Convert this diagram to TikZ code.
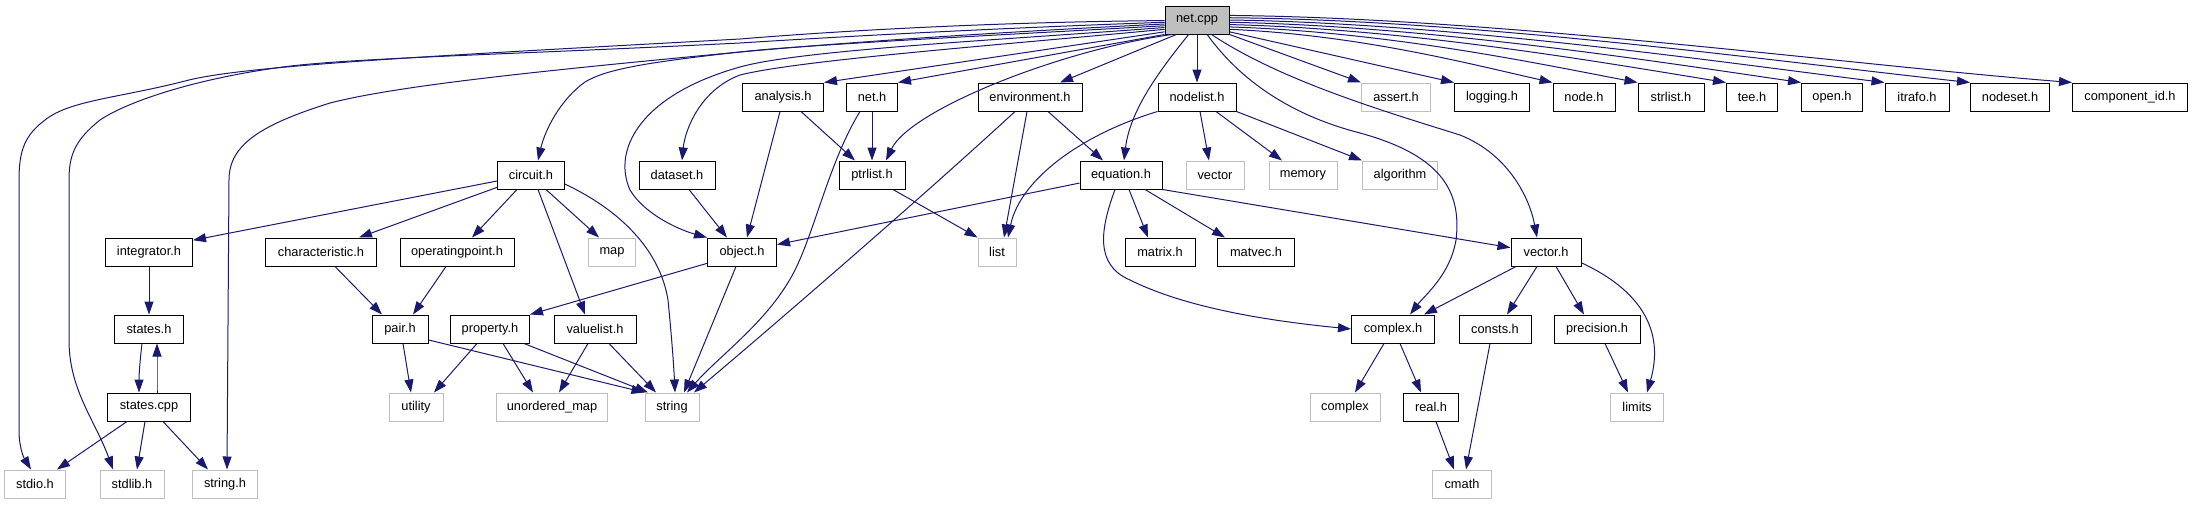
\documentclass[tikz,border=0pt]{standalone}
\usepackage{fontspec}
\setmainfont{Liberation Sans}
\usetikzlibrary{arrows.meta}
\definecolor{edgecol}{HTML}{191970}
\definecolor{grayb}{HTML}{BFBFBF}
\tikzset{
  box/.style={draw=black, line width=1pt, minimum height=28pt, inner xsep=0pt, inner ysep=0pt, font=\fontsize{12.8}{14}\selectfont, text=black},
  ext/.style={box, draw=grayb},
  rootbox/.style={box, fill=grayb},
  edge/.style={draw=edgecol, line width=1pt, -{Triangle[length=13pt,width=9pt]}},
}
\begin{document}
\begin{tikzpicture}[x=1pt,y=-1pt]
\useasboundingbox (0,0) rectangle (2193,504);
% row 0
\node[rootbox, minimum width=64pt] (netcpp) at (1197,20) {net.cpp};
% row 1
\node[box, minimum width=81pt] (analysis) at (783,97) {analysis.h};
\node[box, minimum width=51pt] (neth) at (872,97) {net.h};
\node[box, minimum width=104pt] (environment) at (1030,97) {environment.h};
\node[box, minimum width=78pt] (nodelist) at (1197,97) {nodelist.h};
\node[ext, minimum width=69pt] (assert) at (1396,97) {assert.h};
\node[box, minimum width=75pt] (logging) at (1492,97) {logging.h};
\node[box, minimum width=62pt] (nodeh) at (1584,97) {node.h};
\node[box, minimum width=66pt] (strlist) at (1671,97) {strlist.h};
\node[box, minimum width=51pt] (tee) at (1752,97) {tee.h};
\node[box, minimum width=61pt] (open) at (1832,97) {open.h};
\node[box, minimum width=64pt] (itrafo) at (1917,97) {itrafo.h};
\node[box, minimum width=79pt] (nodeset) at (2010,97) {nodeset.h};
\node[box, minimum width=115pt] (compid) at (2130,97) {component\_id.h};
% row 2
\node[box, minimum width=67pt] (circuit) at (531,175) {circuit.h};
\node[box, minimum width=76pt] (dataset) at (677,175) {dataset.h};
\node[box, minimum width=66pt] (ptrlist) at (872,175) {ptrlist.h};
\node[box, minimum width=82pt] (equation) at (1121,175) {equation.h};
\node[ext, minimum width=58pt] (vectorstd) at (1215,175) {vector};
\node[ext, minimum width=68pt] (memory) at (1303,175) {memory};
\node[ext, minimum width=75pt] (algorithm) at (1400,175) {algorithm};
% row 3
\node[box, minimum width=87pt] (integrator) at (149,252) {integrator.h};
\node[box, minimum width=111pt] (characteristic) at (321,252) {characteristic.h};
\node[box, minimum width=114pt] (operatingpoint) at (457,252) {operatingpoint.h};
\node[ext, minimum width=47pt] (map) at (612,252) {map};
\node[box, minimum width=69pt] (object) at (742,252) {object.h};
\node[ext, minimum width=38pt] (list) at (997,252) {list};
\node[box, minimum width=70pt] (matrix) at (1160,252) {matrix.h};
\node[box, minimum width=77pt] (matvec) at (1256,252) {matvec.h};
\node[box, minimum width=70pt] (vectorh) at (1546,252) {vector.h};
% row 4
\node[box, minimum width=69pt] (states) at (149,329) {states.h};
\node[box, minimum width=56pt] (pair) at (400,329) {pair.h};
\node[box, minimum width=79pt] (property) at (490,329) {property.h};
\node[box, minimum width=82pt] (valuelist) at (595,329) {valuelist.h};
\node[box, minimum width=83pt] (complexh) at (1393,329) {complex.h};
\node[box, minimum width=72pt] (consts) at (1495,329) {consts.h};
\node[box, minimum width=86pt] (precision) at (1597,329) {precision.h};
% row 5
\node[box, minimum width=83pt] (statescpp) at (149,407) {states.cpp};
\node[ext, minimum width=54pt] (utility) at (416,407) {utility};
\node[ext, minimum width=111pt] (unordered) at (552,407) {unordered\_map};
\node[ext, minimum width=54pt] (string) at (672,407) {string};
\node[ext, minimum width=70pt] (complex) at (1345,407) {complex};
\node[box, minimum width=55pt] (realh) at (1431,407) {real.h};
\node[ext, minimum width=53pt] (limits) at (1637,407) {limits};
% row 6
\node[ext, minimum width=61pt] (stdio) at (35,484) {stdio.h};
\node[ext, minimum width=64pt] (stdlib) at (132,484) {stdlib.h};
\node[ext, minimum width=65pt] (stringh) at (225,484) {string.h};
\node[ext, minimum width=59pt] (cmath) at (1462,484) {cmath};

% ---- edges from net.cpp, right fan
\draw[edge] (netcpp.-24) -- (assert.north west);
\draw[edge] (netcpp.-20) -- (logging.north west);
\draw[edge] (netcpp.-16) .. controls (1360,35) and (1470,64) .. (nodeh.north west);
\draw[edge] (netcpp.-12) .. controls (1390,32) and (1540,64) .. (strlist.north west);
\draw[edge] (netcpp.-8) .. controls (1410,29) and (1600,62) .. (tee.north west);
\draw[edge] (netcpp.-4) .. controls (1430,26) and (1660,62) .. (open.north west);
\draw[edge] (netcpp.0) .. controls (1450,23) and (1720,62) .. (itrafo.north west);
\draw[edge] (netcpp.4) .. controls (1480,20) and (1780,62) .. (nodeset.north west);
\draw[edge] (netcpp.8) .. controls (1500,18) and (1850,65) .. (compid.north west);
% ---- net.cpp downward
\draw[edge] (netcpp.south) -- (nodelist.north);
\draw[edge] (netcpp.240) .. controls (1160,70) and (1130,110) .. ([xshift=3pt]equation.north);
\draw[edge] (netcpp.215) -- ([xshift=30pt]environment.north);
\draw[edge] (netcpp.210) .. controls (1060,50) and (910,110) .. ([xshift=14pt]ptrlist.north);
\draw[edge] (netcpp.204) -- (neth.north east);
\draw[edge] (netcpp.200) -- (analysis.north east);
\draw[edge] (netcpp.-55) .. controls (1240,80) and (1290,115) .. (1360,133)
   .. controls (1440,155) and (1462,190) .. (1456,240)
   .. controls (1450,275) and (1425,295) .. ([xshift=17pt]complexh.north);
\draw[edge] (netcpp.-45) .. controls (1280,80) and (1380,110) .. (1460,135)
   .. controls (1510,155) and (1530,200) .. ([xshift=-9pt]vectorh.north);
% ---- net.cpp left long curves
\draw[edge] (netcpp.196) .. controls (1000,45) and (800,60) .. (740,75)
   .. controls (700,90) and (685,130) .. ([xshift=5pt]dataset.north);
\draw[edge] (netcpp.193) .. controls (1000,40) and (800,50) .. (740,67)
   .. controls (640,95) and (612,150) .. (630,190)
   .. controls (645,215) and (680,230) .. (object.north west);
\draw[edge] (netcpp.190) .. controls (1000,35) and (800,45) .. (740,52)
   .. controls (640,63) and (605,70) .. (585,82)
   .. controls (560,100) and (545,130) .. ([xshift=7pt]circuit.north);
\draw[edge] (netcpp.187) .. controls (1000,32) and (850,42) .. (740,52)
   .. controls (550,70) and (400,85) .. (330,103)
   .. controls (260,125) and (229,145) .. (229,180)
   -- ([xshift=2pt]stringh.north);
\draw[edge] (netcpp.184) .. controls (1000,28) and (850,36) .. (740,43)
   .. controls (500,55) and (350,58) .. (283,67)
   .. controls (200,78) and (130,100) .. (100,120)
   .. controls (75,140) and (69,155) .. (69,180) -- (69,340)
   .. controls (69,390) and (95,420) .. ([xshift=-19pt]stdlib.north);
\draw[edge] (netcpp.181) .. controls (1000,22) and (850,30) .. (740,39)
   .. controls (450,55) and (250,65) .. (189,80)
   .. controls (120,98) and (70,100) .. (45,120)
   .. controls (25,135) and (19,150) .. (19,180) -- (19,430)
   .. controls (19,448) and (24,458) .. ([xshift=-4pt]stdio.north);
% ---- circuit.h
\draw[edge] (circuit.190) -- (integrator.15);
\draw[edge] (circuit.200) -- ([xshift=38pt]characteristic.north);
\draw[edge] ([xshift=-14pt]circuit.south) -- ([xshift=15pt]operatingpoint.north);
\draw[edge] ([xshift=15pt]circuit.south) -- ([xshift=-13pt]map.north);
\draw[edge] ([xshift=7pt]circuit.south) -- ([xshift=-10pt]valuelist.north);
\draw[edge] (circuit.-15) .. controls (620,210) and (660,250) .. (668,300)
   .. controls (672,340) and (674,370) .. ([xshift=3pt]string.north);
% ---- states
\draw[edge] (integrator.south) -- (states.north);
\draw[edge] ([xshift=-7pt]states.south) .. controls ([xshift=-9pt]states.south |- 0,360) and ([xshift=-10pt]statescpp.north |- 0,375) .. ([xshift=-10pt]statescpp.north);
\draw[edge] ([xshift=8pt]statescpp.north) .. controls ([xshift=8pt]statescpp.north |- 0,375) and ([xshift=8pt]states.south |- 0,360) .. ([xshift=8pt]states.south);
\draw[edge] ([xshift=-22pt]statescpp.south) -- ([xshift=22pt]stdio.north);
\draw[edge] ([xshift=-4pt]statescpp.south) -- ([xshift=5pt]stdlib.north);
\draw[edge] ([xshift=14pt]statescpp.south) -- ([xshift=-17pt]stringh.north);
% ---- pair, property, valuelist
\draw[edge] ([xshift=14pt]characteristic.south) -- ([xshift=-18pt]pair.north);
\draw[edge] ([xshift=-11pt]operatingpoint.south) -- ([xshift=13pt]pair.north);
\draw[edge] ([xshift=3pt]pair.south) -- ([xshift=-5pt]utility.north);
\draw[edge] (pair.-21) -- (string.north west);
\draw[edge] ([xshift=-13pt]property.south) -- ([xshift=18pt]utility.north);
\draw[edge] ([xshift=13pt]property.south) -- ([xshift=-19pt]unordered.north);
\draw[edge] ([xshift=34pt]property.south) -- ([xshift=-24pt]string.north);
\draw[edge] ([xshift=-7pt]valuelist.south) -- ([xshift=7pt]unordered.north);
\draw[edge] ([xshift=14pt]valuelist.south) -- ([xshift=-16pt]string.north);
% ---- object, dataset, analysis, net.h
\draw[edge] (object.198) -- (property.north east);
\draw[edge] ([xshift=-6pt]object.south) -- ([xshift=12pt]string.north);
\draw[edge] ([xshift=12pt]dataset.south) -- ([xshift=-15pt]object.north);
\draw[edge] ([xshift=-3pt]analysis.south) -- ([xshift=5pt]object.north);
\draw[edge] ([xshift=18pt]analysis.south) -- ([xshift=-17pt]ptrlist.north);
\draw[edge] (neth.south) -- (ptrlist.north);
\draw[edge] ([xshift=-12pt]neth.south) .. controls (830,160) and (815,230) .. (795,270)
   .. controls (770,320) and (720,355) .. ([xshift=15pt]string.north);
% ---- environment, nodelist, ptrlist
\draw[edge] ([xshift=-15pt]environment.south) .. controls (930,190) and (780,320) .. ([xshift=22pt]string.north);
\draw[edge] ([xshift=-3pt]environment.south) -- ([xshift=7pt]list.north);
\draw[edge] ([xshift=18pt]environment.south) -- ([xshift=-18pt]equation.north);
\draw[edge] (nodelist.south west) .. controls (1080,135) and (1020,180) .. ([xshift=11pt]list.north);
\draw[edge] ([xshift=3pt]nodelist.south) -- ([xshift=-6pt]vectorstd.north);
\draw[edge] ([xshift=19pt]nodelist.south) -- ([xshift=-21pt]memory.north);
\draw[edge] (nodelist.south east) -- (algorithm.north west);
\draw[edge] ([xshift=21pt]ptrlist.south) -- (list.north west);
% ---- equation
\draw[edge] (equation.191) -- (object.12);
\draw[edge] ([xshift=8pt]equation.south) -- ([xshift=-12pt]matrix.north);
\draw[edge] ([xshift=24pt]equation.south) -- ([xshift=-31pt]matvec.north);
\draw[edge] (equation.south east) -- (vectorh.173);
\draw[edge] ([xshift=-6pt]equation.south) .. controls (1100,230) and (1095,265) .. (1130,280)
   .. controls (1190,310) and (1280,322) .. (complexh.west);
% ---- vector.h
\draw[edge] ([xshift=-30pt]vectorh.south) -- ([xshift=31pt]complexh.north);
\draw[edge] ([xshift=-9pt]vectorh.south) -- ([xshift=12pt]consts.north);
\draw[edge] ([xshift=10pt]vectorh.south) -- ([xshift=-13pt]precision.north);
\draw[edge] (vectorh.-17) .. controls (1640,290) and (1665,330) .. ([xshift=10pt]limits.north);
\draw[edge] ([xshift=8pt]precision.south) -- ([xshift=-9pt]limits.north);
% ---- complex.h
\draw[edge] ([xshift=-9pt]complexh.south) -- ([xshift=10pt]complex.north);
\draw[edge] ([xshift=7pt]complexh.south) -- ([xshift=-10pt]realh.north);
\draw[edge] ([xshift=5pt]realh.south) -- ([xshift=-8pt]cmath.north);
\draw[edge] ([xshift=-5pt]consts.south) -- ([xshift=4pt]cmath.north);
\end{tikzpicture}
\end{document}
